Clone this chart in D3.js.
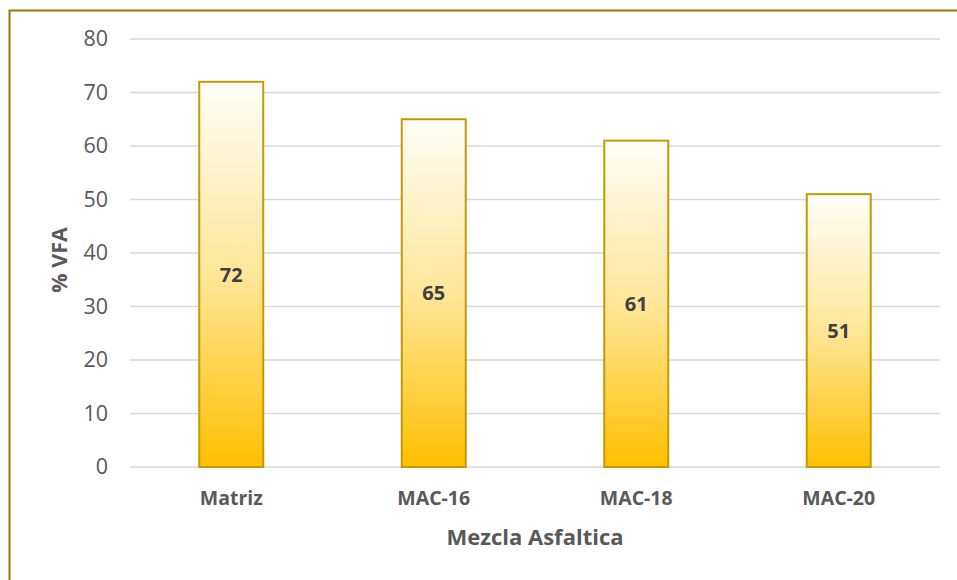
<!DOCTYPE html>
<html><head><meta charset="utf-8">
<script src="https://cdn.jsdelivr.net/npm/d3@7"></script>
<style>body{margin:0;background:#fff}svg{display:block}</style>
</head><body>
<script>
const categories = ["Matriz","MAC-16","MAC-18","MAC-20"];
const values = [72,65,61,51];
const yTicks = [0,10,20,30,40,50,60,70,80];

const W=957,H=580;
const svg=d3.select("body").append("svg").attr("width",W).attr("height",H);
const font="'Open Sans', sans-serif";

svg.append("rect").attr("x",9.5).attr("y",10.5).attr("width",W+20).attr("height",H+20)
  .attr("fill","#fff").attr("stroke","#9C7700").attr("stroke-width",2);

const defs=svg.append("defs");
const g=defs.append("linearGradient").attr("id","grad").attr("x1",0).attr("y1",1).attr("x2",0).attr("y2",0);
g.append("stop").attr("offset","0%").attr("stop-color","#FFC000");
g.append("stop").attr("offset","50%").attr("stop-color","#FFE699");
g.append("stop").attr("offset","100%").attr("stop-color","#FFFEF8");

const x=d3.scaleBand().domain(categories).range([130,940]).paddingInner(0.684).paddingOuter(0.342);
const y=d3.scaleLinear().domain([0,80]).range([467,39]);

const grid=svg.append("g");
grid.selectAll("line").data(yTicks).join("line")
  .attr("x1",130).attr("x2",940).attr("y1",d=>y(d)).attr("y2",d=>y(d))
  .attr("stroke","#D9D9D9").attr("stroke-width",1.3);

const yAxis=svg.append("g").attr("transform","translate(108,0)")
  .call(d3.axisLeft(y).tickValues(yTicks).tickSize(0).tickPadding(0));
yAxis.select(".domain").remove();
yAxis.selectAll("text").attr("font-family",font).attr("font-size",21.5).attr("fill","#595959");

svg.selectAll("rect.bar").data(values).join("rect").attr("class","bar")
  .attr("x",(d,i)=>x(categories[i])).attr("width",x.bandwidth())
  .attr("y",d=>y(d)).attr("height",d=>y(0)-y(d))
  .attr("fill","url(#grad)").attr("stroke","#C59A00").attr("stroke-width",2);

svg.selectAll("text.val").data(values).join("text").attr("class","val")
  .attr("x",(d,i)=>x(categories[i])+x.bandwidth()/2)
  .attr("y",d=>(y(d)+y(0))/2).attr("dy","0.36em").attr("text-anchor","middle")
  .attr("font-family",font).attr("font-weight","bold").attr("font-size",20).attr("fill","#404040")
  .text(d=>d);

const xAxis=svg.append("g").attr("transform","translate(0,467)")
  .call(d3.axisBottom(x).tickSize(0).tickPadding(0));
xAxis.select(".domain").remove();
xAxis.selectAll("text").attr("dy",null).attr("y",38).attr("font-family",font).attr("font-weight","bold").attr("font-size",19.5).attr("fill","#595959");

svg.append("text").attr("x",535).attr("y",545).attr("text-anchor","middle")
  .attr("font-family",font).attr("font-weight","bold").attr("font-size",22).attr("fill","#595959")
  .text("Mezcla Asfaltica");
svg.append("text").attr("transform","translate(67,260) rotate(-90)").attr("text-anchor","middle")
  .attr("font-family",font).attr("font-weight","bold").attr("font-size",21.5).attr("fill","#595959")
  .text("% VFA");
</script>
</body></html>
